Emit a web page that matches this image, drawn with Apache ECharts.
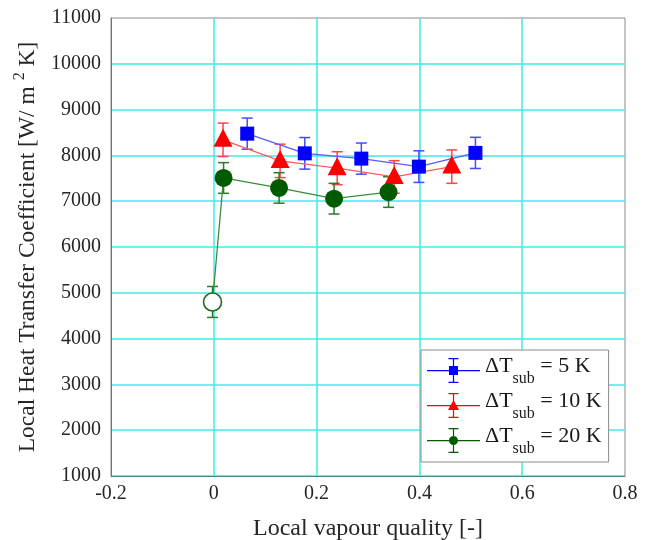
<!DOCTYPE html>
<html>
<head>
<meta charset="utf-8">
<script src="https://cdn.jsdelivr.net/npm/echarts@6/dist/echarts.min.js"></script>
<style>
  html, body { margin: 0; padding: 0; background: #fff; }
  #chart { width: 654px; height: 540px; }
</style>
</head>
<body>
<div id="chart"></div>
<script>
// axis ranges
const X_MIN = -0.2, X_MAX = 0.8, X_STEP = 0.2;
const Y_MIN = 1000, Y_MAX = 11000, Y_STEP = 1000;

// dT_sub = 5 K
const blueX = [0.065, 0.177, 0.287, 0.399, 0.509];
const blueY = [8475, 8045, 7930, 7755, 8055];
const blueErr = [340, 345, 340, 345, 340];

// dT_sub = 10 K
const redX = [0.018, 0.129, 0.240, 0.351, 0.463];
const redY = [8340, 7880, 7720, 7530, 7755];
const redErr = [365, 365, 360, 355, 365];

// dT_sub = 20 K (first point is the open circle)
const greenX = [-0.0025, 0.019, 0.127, 0.234, 0.340];
const greenY = [4800, 7507, 7290, 7055, 7200];
const greenErr = [338, 335, 333, 335, 334];

const seriesNames = ["5 K", "10 K", "20 K"];

const FONT = "'Liberation Serif', 'DejaVu Serif', serif";
const TXT = "#262626";

// legend icons: line + errorbar + marker (53 x 25 box)
const BAR = "M0 12 H53 V13.2 H0 Z M25.9 0 H27.1 V25 H25.9 Z M21.5 0 H31.5 V1.2 H21.5 Z M21.5 23.8 H31.5 V25 H21.5 Z ";
const ICONS = [
  "path://" + BAR + "M22 8 H31 V17 H22 Z",
  "path://" + BAR + "M26.5 7 L32 17 L21 17 Z",
  "path://" + BAR + "M22 12.5 A4.5 4.5 0 1 1 31 12.5 A4.5 4.5 0 1 1 22 12.5 Z"
];

function errorSeries(name, xs, ys, errs, color){
  return {
    type: "custom",
    name: name,
    z: 1,
    silent: true,
    data: xs.map((x, i) => [x, ys[i] - errs[i], ys[i] + errs[i]]),
    encode: { x: 0, y: [1, 2] },
    renderItem(params, api){
      const lo = api.coord([api.value(0), api.value(1)]);
      const hi = api.coord([api.value(0), api.value(2)]);
      const hw = 5.5;
      const style = { stroke: color, lineWidth: 1.5, fill: null };
      return {
        type: "group",
        children: [
          { type: "line", shape: { x1: lo[0], y1: lo[1], x2: hi[0], y2: hi[1] }, style },
          { type: "line", shape: { x1: lo[0] - hw, y1: lo[1], x2: lo[0] + hw, y2: lo[1] }, style },
          { type: "line", shape: { x1: hi[0] - hw, y1: hi[1], x2: hi[0] + hw, y2: hi[1] }, style }
        ]
      };
    }
  };
}

function pairs(xs, ys){ return xs.map((x, i) => [x, ys[i]]); }

const greenData = pairs(greenX, greenY);
greenData[0] = {
  value: greenData[0],
  itemStyle: { color: "#ffffff", borderColor: "#1f6e1f", borderWidth: 1.6 }
};

const chart = echarts.init(document.getElementById("chart"));
chart.setOption({
  animation: false,
  grid: {
    left: 111, right: 29, top: 18, bottom: 64,
    outerBoundsMode: "none",
    show: true, borderColor: "#8a8a8a", borderWidth: 1, backgroundColor: "#fff"
  },
  legend: {
    orient: "vertical",
    left: 421, top: 350,
    padding: [4, 7, 5, 6],
    itemGap: 2,
    itemWidth: 53, itemHeight: 25,
    backgroundColor: "#fff",
    borderColor: "#8c8c8c", borderWidth: 1,
    data: seriesNames.map((n, i) => ({ name: n, icon: ICONS[i] })),
    formatter: name => "{d|ΔT}{s|sub}{d| = " + name + "}",
    textStyle: {
      fontFamily: FONT, color: "#1a1a1a",
      rich: {
        d: { fontFamily: FONT, fontSize: 22, lineHeight: 22, color: "#1a1a1a", padding: [0, 0, 8, 0], verticalAlign: "middle" },
        s: { fontFamily: FONT, fontSize: 16, lineHeight: 16, color: "#1a1a1a", padding: [17, 0, 0, 0], verticalAlign: "middle" }
      }
    }
  },
  xAxis: {
    type: "value",
    min: X_MIN, max: X_MAX, interval: X_STEP,
    name: "Local vapour quality [-]",
    nameLocation: "middle",
    nameGap: 41,
    nameTextStyle: { fontFamily: FONT, fontSize: 24, color: TXT },
    axisLine: { show: true, onZero: false, lineStyle: { color: "#4a8585", width: 1 } },
    axisTick: { show: false },
    axisLabel: {
      fontFamily: FONT, fontSize: 20, color: TXT, margin: 8,
      formatter: v => String(Math.round(v * 10) / 10)
    },
    splitLine: { show: true, showMinLine: false, showMaxLine: false, lineStyle: { color: "#40eaea", width: 1.5 } }
  },
  yAxis: {
    type: "value",
    min: Y_MIN, max: Y_MAX, interval: Y_STEP,
    name: "{a|Local Heat Transfer Coefficient [W/ m }{p|2}{a| K]}",
    nameLocation: "middle",
    nameGap: 58,
    nameTextStyle: {
      fontFamily: FONT, fontSize: 23.5, color: TXT,
      rich: {
        a: { fontFamily: FONT, fontSize: 23.5, color: TXT, verticalAlign: "bottom" },
        p: { fontFamily: FONT, fontSize: 16, color: TXT, padding: [0, 0, 12, 0], verticalAlign: "bottom" }
      }
    },
    axisLine: { show: true, onZero: false, lineStyle: { color: "#4a8585", width: 1 } },
    axisTick: { show: false },
    axisLabel: { fontFamily: FONT, fontSize: 20, color: TXT, margin: 10, formatter: v => String(v) },
    splitLine: { show: true, showMinLine: false, showMaxLine: false, lineStyle: { color: "#40eaea", width: 1.5 } }
  },
  series: [
    errorSeries("err5", blueX, blueY, blueErr, "#4848ff"),
    errorSeries("err10", redX, redY, redErr, "#ff4545"),
    errorSeries("err20", greenX, greenY, greenErr, "#2a7a2a"),
    {
      type: "line", name: seriesNames[0], z: 2,
      data: pairs(blueX, blueY),
      symbol: "rect", symbolSize: 14,
      itemStyle: { color: "#0000ff" },
      lineStyle: { color: "#5a5aff", width: 1.3 }
    },
    {
      type: "line", name: seriesNames[1], z: 2,
      data: pairs(redX, redY),
      symbol: "triangle", symbolSize: [19, 18], symbolOffset: [0, -2],
      itemStyle: { color: "#ff0000" },
      lineStyle: { color: "#ff5a5a", width: 1.3 }
    },
    {
      type: "line", name: seriesNames[2], z: 2,
      data: greenData,
      symbol: "circle", symbolSize: 18,
      itemStyle: { color: "#005a00" },
      lineStyle: { color: "#3d8a3d", width: 1.3 }
    }
  ]
});
</script>
</body>
</html>
